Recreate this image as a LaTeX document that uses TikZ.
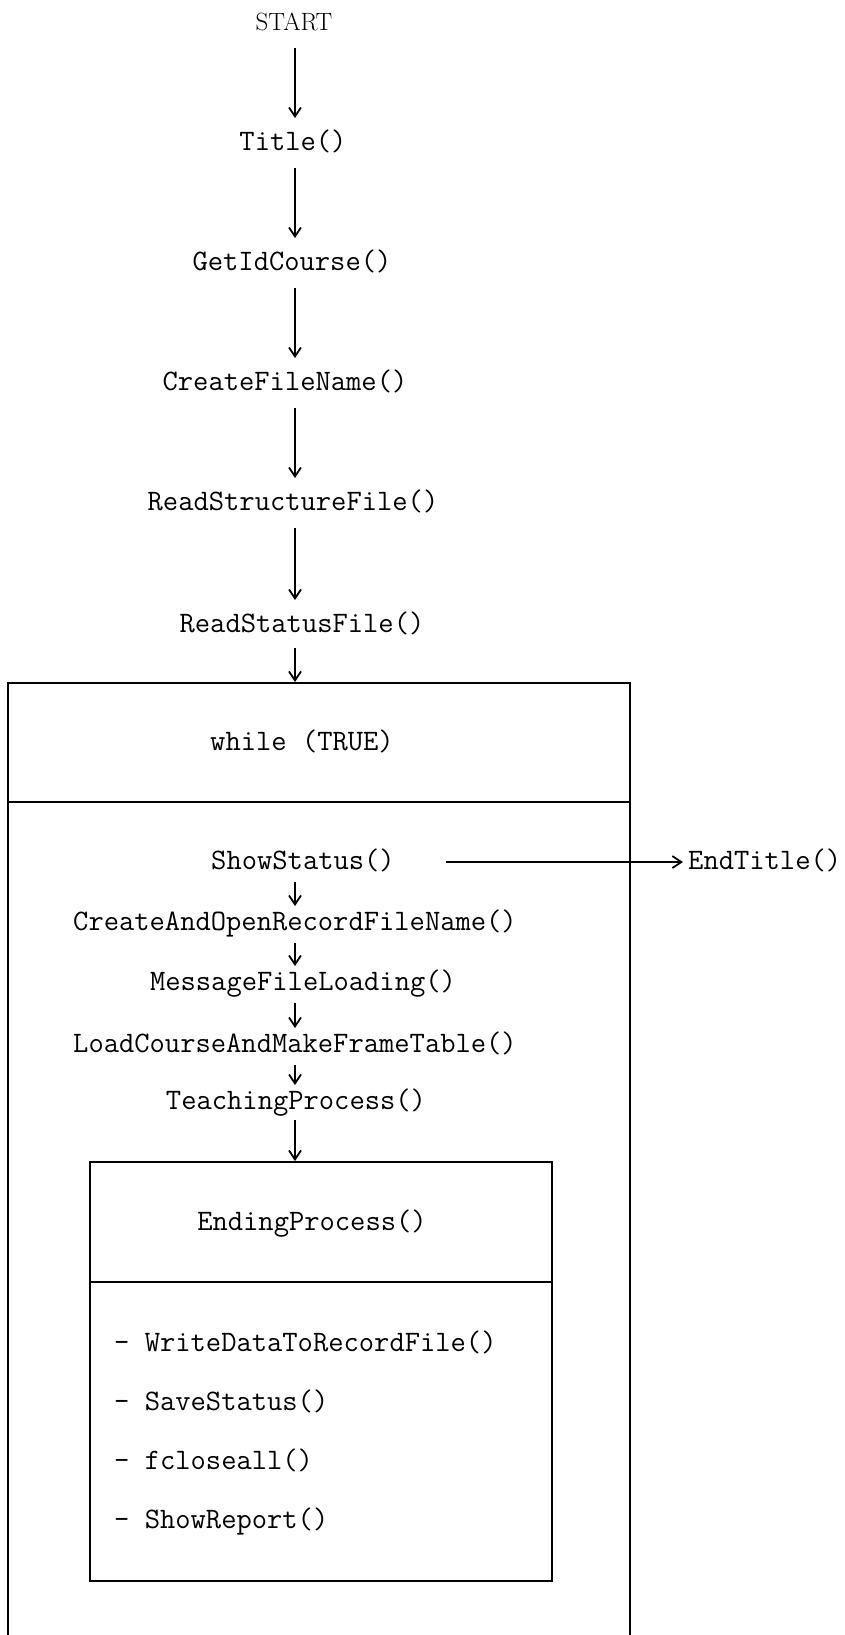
\documentclass[tikz,border=0pt]{standalone}
\usetikzlibrary{arrows.meta}
\begin{document}
\begin{tikzpicture}[x=1pt,y=-1pt,
  lbl/.style={font=\fontsize{29.7}{32}\selectfont\ttfamily, inner sep=0pt, text height=22pt, text depth=7.5pt},
  startlbl/.style={font=\fontsize{25}{28}\selectfont\rmfamily, inner sep=0pt, text height=22pt, text depth=7.5pt},
  flow/.style={line width=1.8pt, -{Straight Barb[length=9pt,width=12pt,line width=1.8pt]}},
  bigflow/.style={flow, shorten <=10pt, shorten >=10pt},
  smallflow/.style={flow, shorten <=5pt, shorten >=2pt},
  boxline/.style={line width=2.2pt},
  boxnode/.style={draw, line width=2.2pt, inner sep=0pt, outer sep=0pt}
]
\path[use as bounding box] (0,0) rectangle (845,1635);
\coordinate (axis) at (295,0);

% main column
\node[startlbl] (start) at (294,23) {START};
\node[lbl] (title) at (293,143) {Title()};
\node[lbl] (getid) at (292,263) {GetIdCourse()};
\node[lbl] (cfn) at (285,383) {CreateFileName()};
\node[lbl] (rstruct) at (293,503) {ReadStructureFile()};
\node[lbl] (rstat) at (302,625) {ReadStatusFile()};

\draw[bigflow] (start.south -| axis) -- (title.north -| axis);
\draw[bigflow] (title.south -| axis) -- (getid.north -| axis);
\draw[bigflow] (getid.south -| axis) -- (cfn.north -| axis);
\draw[bigflow] (cfn.south -| axis) -- (rstruct.north -| axis);
\draw[bigflow] (rstruct.south -| axis) -- (rstat.north -| axis);

% while box
\node[boxnode, minimum width=622pt, minimum height=119pt] (whilehdr) at (319,742.5) {};
\node[lbl] (whiletxt) at (302,743) {while (TRUE)};
\draw[boxline] (whilehdr.south west) -- ++(0,850);
\draw[boxline] (whilehdr.south east) -- ++(0,850);
\draw[flow, shorten <=8pt, shorten >=1pt] (rstat.south -| axis) -- (whilehdr.north -| axis);

% loop body
\node[lbl] (show) at (303,862) {ShowStatus()};
\node[lbl] (coaf) at (295,923) {CreateAndOpenRecordFileName()};
\node[lbl] (msg) at (303,983) {MessageFileLoading()};
\node[lbl] (load) at (295,1045) {LoadCourseAndMakeFrameTable()};
\node[lbl] (teach) at (296,1102) {TeachingProcess()};
\node[lbl, anchor=west] (endtitle) at (688,862) {EndTitle()};

\draw[smallflow] (show.south -| axis) -- (coaf.north -| axis);
\draw[smallflow] (coaf.south -| axis) -- (msg.north -| axis);
\draw[smallflow] (msg.south -| axis) -- (load.north -| axis);
\draw[smallflow] (load.south -| axis) -- (teach.north -| axis);
\draw[flow, shorten <=51pt, shorten >=5pt] (show.east) -- (endtitle.west);

% ending process box
\node[boxnode, minimum width=462pt, minimum height=120pt] (endhdr) at (321,1222) {};
\node[lbl] (endtxt) at (312,1223) {EndingProcess()};
\node[boxnode, minimum width=462pt, minimum height=299pt, anchor=north] (endbody) at (endhdr.south) {};
\draw[flow, shorten <=3pt, shorten >=1pt] (teach.south -| axis) -- (endhdr.north -| axis);

\node[lbl, anchor=west] (i1) at (114,1344) {- WriteDataToRecordFile()};
\node[lbl, anchor=west] (i2) at (114,1403) {- SaveStatus()};
\node[lbl, anchor=west] (i3) at (114,1462) {- fcloseall()};
\node[lbl, anchor=west] (i4) at (114,1521) {- ShowReport()};
\end{tikzpicture}
\end{document}
